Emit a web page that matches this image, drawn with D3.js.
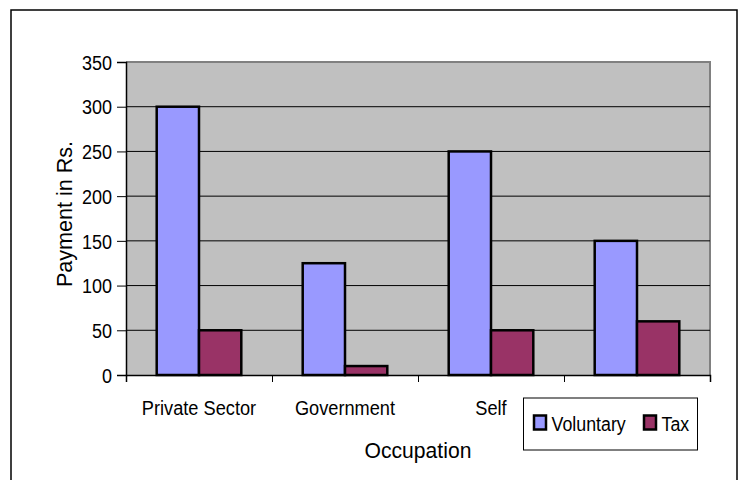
<!DOCTYPE html>
<html><head><meta charset="utf-8">
<script src="https://cdn.jsdelivr.net/npm/d3@7"></script>
<style>body{margin:0;background:#fff;}svg{display:block;font-family:"Liberation Sans",Arial,sans-serif;}</style>
</head><body>
<svg id="c" width="740" height="480"></svg>
<script>
const categories = ["Private Sector", "Government", "Self", ""];
const series = ["Voluntary", "Tax"];
const voluntary = [300, 125, 250, 150];
const tax = [50, 10, 50, 60];
const yTicks = [0, 50, 100, 150, 200, 250, 300, 350];
const colors = ["#9999FF", "#993366"];

const svg = d3.select("#c");
const L = 126, R = 710, T = 62, B = 375;

function squeeze(sel, k) {
  sel.each(function() {
    const w = this.getComputedTextLength();
    if (w > 0) d3.select(this).attr("textLength", w * k).attr("lengthAdjust", "spacingAndGlyphs");
  });
}

svg.append("rect").attr("x", 11).attr("y", 10).attr("width", 726).attr("height", 490)
  .attr("fill", "#fff").attr("stroke", "#000").attr("stroke-width", 1.5);

const x = d3.scaleBand().domain(d3.range(categories.length)).range([L, R]).paddingInner(0).paddingOuter(0);
const y = d3.scaleLinear().domain([0, 350]).range([B, T]);
const xi = d3.scaleBand().domain(series).range([30.7, x.bandwidth() - 30.7]);

svg.append("rect").attr("x", L).attr("y", T).attr("width", R - L).attr("height", B - T).attr("fill", "#C0C0C0");
svg.append("path").attr("d", `M${L},${T}H${R}V${B}`).attr("fill", "none").attr("stroke", "#808080").attr("stroke-width", 2);

svg.append("g").selectAll("line").data(yTicks.filter(d => d > 0 && d < 350)).join("line")
  .attr("x1", L).attr("x2", R).attr("y1", d => y(d)).attr("y2", d => y(d))
  .attr("stroke", "#000").attr("stroke-width", 1);

const data = categories.map((c, i) => ({i, vals: [voluntary[i], tax[i]]}));
const g = svg.append("g").selectAll("g").data(data).join("g").attr("transform", d => `translate(${x(d.i)},0)`);
g.selectAll("rect").data(d => d.vals.map((v, k) => ({v, k}))).join("rect")
  .attr("x", d => xi(series[d.k])).attr("width", xi.bandwidth())
  .attr("y", d => y(d.v)).attr("height", d => y(0) - y(d.v))
  .attr("fill", d => colors[d.k]).attr("stroke", "#000").attr("stroke-width", 2.5);

const ya = svg.append("g").attr("transform", `translate(${L},0)`)
  .call(d3.axisLeft(y).tickValues(yTicks).tickSize(9).tickPadding(5));
ya.select(".domain").attr("stroke", "#000").attr("stroke-width", 1.5);
ya.selectAll("text").attr("font-size", 20).attr("font-family", "Liberation Sans, Arial").attr("fill", "#000").attr("dy", "0.36em");
squeeze(ya.selectAll("text"), 0.9);

const xa = svg.append("g").attr("transform", `translate(0,${B})`)
  .call(d3.axisBottom(d3.scaleLinear().domain([0, 4]).range([L, R])).tickValues([0,1,2,3,4]).tickSize(7).tickFormat(""));
xa.select(".domain").attr("stroke", "#000").attr("stroke-width", 1.5);

const cl = svg.append("g").selectAll("text").data(categories).join("text")
  .attr("x", (d, i) => x(i) + x.bandwidth() / 2).attr("y", 415)
  .attr("text-anchor", "middle").attr("font-size", 20).text(d => d);
squeeze(cl, 0.91);

const xt = svg.append("text").attr("x", 418).attr("y", 458).attr("text-anchor", "middle")
  .attr("font-size", 22).text("Occupation");
squeeze(xt, 0.96);
const yt = svg.append("text").attr("transform", "translate(72,214) rotate(-90)").attr("text-anchor", "middle")
  .attr("font-size", 22).text("Payment in Rs.");
squeeze(yt, 0.98);

const lg = svg.append("g");
lg.append("rect").attr("x", 523.5).attr("y", 398).attr("width", 174).attr("height", 52)
  .attr("fill", "#fff").attr("stroke", "#000").attr("stroke-width", 1);
const lx = [534, 644];
series.forEach((s, k) => {
  lg.append("rect").attr("x", lx[k]).attr("y", 415.5).attr("width", 12).attr("height", 14)
    .attr("fill", colors[k]).attr("stroke", "#000").attr("stroke-width", 2.5);
  const t = lg.append("text").attr("x", lx[k] + 17.5).attr("y", 431).attr("font-size", 20).text(s);
  squeeze(t, 0.89);
});
</script>
</body></html>
